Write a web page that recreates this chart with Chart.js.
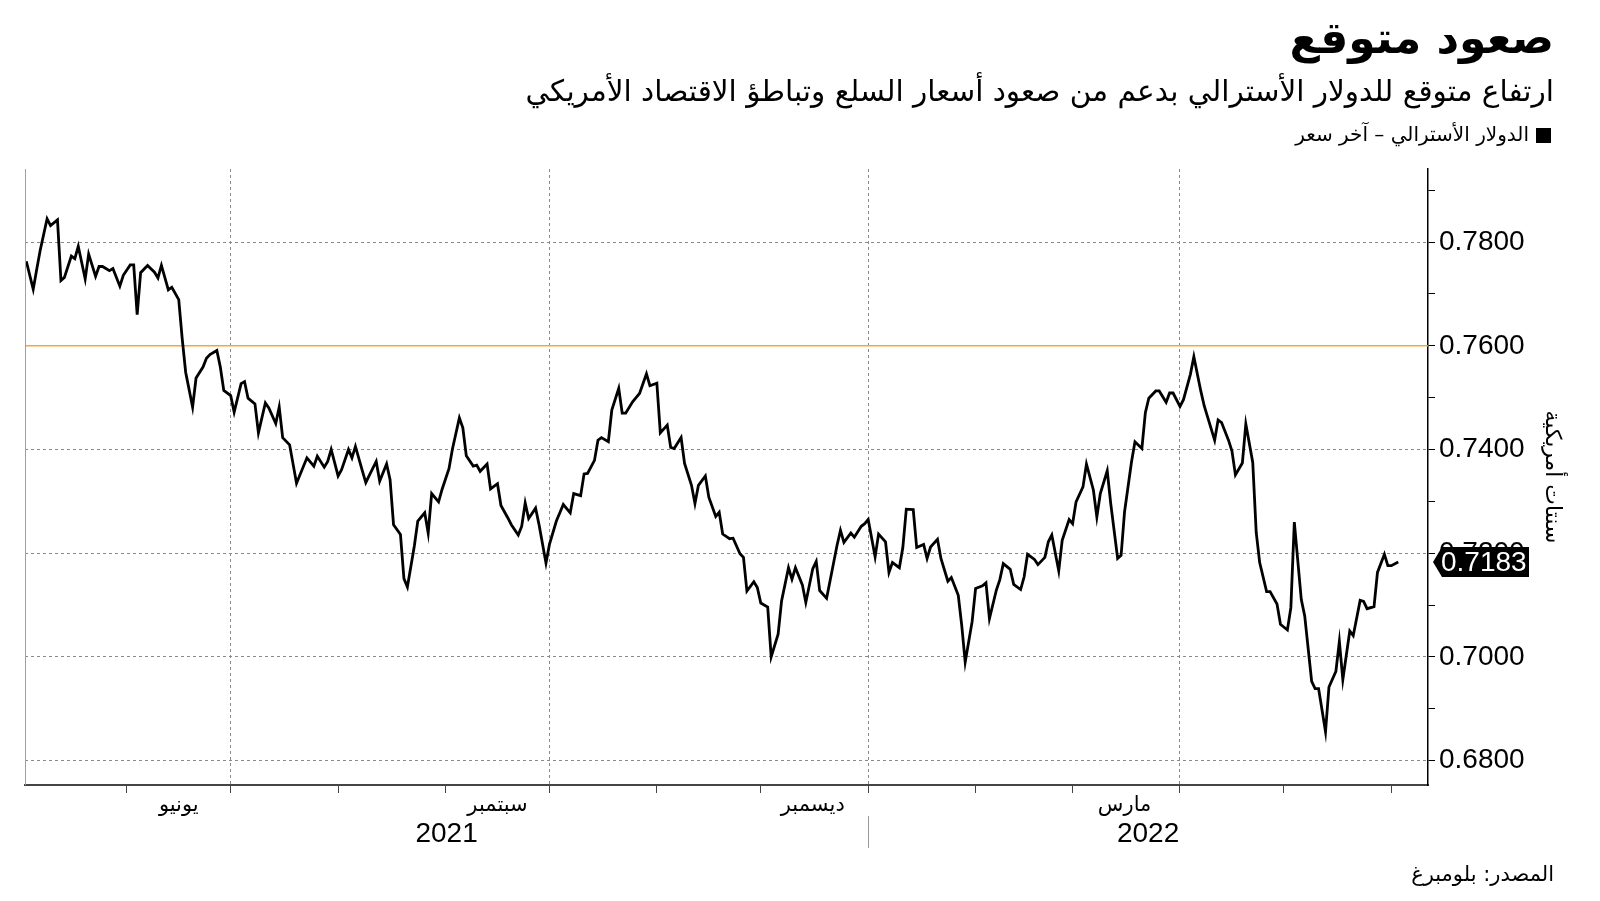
<!DOCTYPE html>
<html lang="ar">
<head>
<meta charset="utf-8">
<title>صعود متوقع</title>
<script src="https://cdn.jsdelivr.net/npm/chart.js@4.4.1/dist/chart.umd.min.js"></script>
<style>
  html, body { margin: 0; padding: 0; background: #fff; }
  canvas { display: block; }
</style>
</head>
<body>
<canvas id="audChart" width="1600" height="901"></canvas>
<script>
// نصوص الرسم
const titleText = 'صعود متوقع';
const subtitleText = 'ارتفاع متوقع للدولار الأسترالي بدعم من صعود أسعار السلع وتباطؤ الاقتصاد الأمريكي';
const legendText = 'الدولار الأسترالي – آخر سعر';
const axisTitle = 'سنتات أمريكية';
const sourceText = 'المصدر: بلومبرغ';

// الدولار الأسترالي مقابل الدولار الأمريكي (قراءة تقريبية من الصورة)
const dates = [
  '2021-05-03','2021-05-05','2021-05-06','2021-05-07','2021-05-09','2021-05-10','2021-05-12','2021-05-13','2021-05-14','2021-05-16',
  '2021-05-17','2021-05-18','2021-05-20','2021-05-21','2021-05-23','2021-05-24','2021-05-25','2021-05-27','2021-05-28','2021-05-30',
  '2021-05-31','2021-06-02','2021-06-03','2021-06-04','2021-06-05','2021-06-07','2021-06-09','2021-06-10','2021-06-11','2021-06-13',
  '2021-06-14','2021-06-16','2021-06-17','2021-06-18','2021-06-20','2021-06-21','2021-06-23','2021-06-24','2021-06-25','2021-06-27',
  '2021-06-28','2021-06-29','2021-07-01','2021-07-02','2021-07-04','2021-07-05','2021-07-06','2021-07-08','2021-07-09','2021-07-11',
  '2021-07-12','2021-07-14','2021-07-15','2021-07-16','2021-07-18','2021-07-20','2021-07-23','2021-07-25','2021-07-26','2021-07-28',
  '2021-07-29','2021-07-30','2021-08-01','2021-08-02','2021-08-04','2021-08-05','2021-08-06','2021-08-08','2021-08-09','2021-08-10',
  '2021-08-12','2021-08-13','2021-08-15','2021-08-16','2021-08-17','2021-08-19','2021-08-20','2021-08-21','2021-08-23','2021-08-24',
  '2021-08-26','2021-08-27','2021-08-28','2021-08-30','2021-08-31','2021-09-02','2021-09-03','2021-09-05','2021-09-06','2021-09-07',
  '2021-09-09','2021-09-10','2021-09-11','2021-09-13','2021-09-14','2021-09-16','2021-09-17','2021-09-19','2021-09-20','2021-09-22',
  '2021-09-23','2021-09-24','2021-09-25','2021-09-27','2021-09-28','2021-09-30','2021-10-01','2021-10-03','2021-10-04','2021-10-05',
  '2021-10-07','2021-10-08','2021-10-10','2021-10-11','2021-10-12','2021-10-14','2021-10-15','2021-10-16','2021-10-18','2021-10-19',
  '2021-10-21','2021-10-22','2021-10-23','2021-10-25','2021-10-26','2021-10-27','2021-10-29','2021-10-30','2021-11-01','2021-11-02',
  '2021-11-04','2021-11-05','2021-11-06','2021-11-08','2021-11-09','2021-11-11','2021-11-12','2021-11-13','2021-11-15','2021-11-16',
  '2021-11-18','2021-11-19','2021-11-20','2021-11-22','2021-11-23','2021-11-25','2021-11-26','2021-11-27','2021-11-29','2021-11-30',
  '2021-12-01','2021-12-03','2021-12-04','2021-12-06','2021-12-07','2021-12-09','2021-12-10','2021-12-11','2021-12-13','2021-12-14',
  '2021-12-16','2021-12-17','2021-12-18','2021-12-20','2021-12-21','2021-12-23','2021-12-24','2021-12-25','2021-12-27','2021-12-28',
  '2021-12-30','2021-12-31','2022-01-01','2022-01-03','2022-01-04','2022-01-06','2022-01-07','2022-01-08','2022-01-10','2022-01-11',
  '2022-01-12','2022-01-14','2022-01-15','2022-01-17','2022-01-18','2022-01-19','2022-01-21','2022-01-22','2022-01-24','2022-01-25',
  '2022-01-27','2022-01-28','2022-01-29','2022-01-31','2022-02-01','2022-02-03','2022-02-04','2022-02-05','2022-02-07','2022-02-08',
  '2022-02-09','2022-02-11','2022-02-12','2022-02-14','2022-02-15','2022-02-16','2022-02-18','2022-02-19','2022-02-21','2022-02-22',
  '2022-02-23','2022-02-25','2022-02-26','2022-02-28','2022-03-01','2022-03-02','2022-03-04','2022-03-05','2022-03-07','2022-03-08',
  '2022-03-09','2022-03-11','2022-03-12','2022-03-14','2022-03-15','2022-03-16','2022-03-18','2022-03-19','2022-03-21','2022-03-22',
  '2022-03-23','2022-03-25','2022-03-26','2022-03-28','2022-03-29','2022-03-30','2022-04-01','2022-04-02','2022-04-04','2022-04-05',
  '2022-04-07','2022-04-08','2022-04-09','2022-04-11','2022-04-12','2022-04-13','2022-04-15','2022-04-16','2022-04-17','2022-04-19',
  '2022-04-20','2022-04-22','2022-04-23','2022-04-24','2022-04-26','2022-04-27','2022-04-29','2022-04-30','2022-05-02','2022-05-03',
  '2022-05-04','2022-05-06','2022-05-07','2022-05-09','2022-05-10','2022-05-11','2022-05-13','2022-05-14','2022-05-16','2022-05-17',
  '2022-05-18','2022-05-20','2022-05-21','2022-05-23','2022-05-24','2022-05-25','2022-05-27','2022-05-28','2022-05-30','2022-05-31',
  '2022-06-01','2022-06-03'
];
const values = [
  0.7763,0.7709,0.7747,0.7784,0.7845,0.7832,0.7843,0.7726,0.7732,0.7773,
  0.7768,0.7792,0.7729,0.7777,0.7734,0.7753,0.7753,0.7745,0.7749,0.7715,
  0.7736,0.7756,0.7756,0.7660,0.7741,0.7755,0.7742,0.7731,0.7755,0.7708,
  0.7713,0.7689,0.7614,0.7549,0.7482,0.7538,0.7559,0.7576,0.7583,0.7591,
  0.7559,0.7514,0.7504,0.7472,0.7527,0.7531,0.7499,0.7488,0.7432,0.7490,
  0.7480,0.7450,0.7482,0.7423,0.7409,0.7335,0.7384,0.7368,0.7387,0.7366,
  0.7377,0.7400,0.7349,0.7361,0.7400,0.7384,0.7406,0.7359,0.7336,0.7350,
  0.7377,0.7339,0.7372,0.7342,0.7255,0.7236,0.7151,0.7135,0.7214,0.7262,
  0.7278,0.7239,0.7315,0.7299,0.7323,0.7363,0.7401,0.7461,0.7442,0.7388,
  0.7368,0.7370,0.7358,0.7372,0.7324,0.7334,0.7292,0.7268,0.7255,0.7235,
  0.7252,0.7297,0.7267,0.7287,0.7255,0.7181,0.7217,0.7262,0.7278,0.7294,
  0.7278,0.7315,0.7311,0.7353,0.7354,0.7379,0.7418,0.7423,0.7415,0.7476,
  0.7518,0.7470,0.7470,0.7492,0.7500,0.7508,0.7546,0.7523,0.7528,0.7432,
  0.7447,0.7404,0.7402,0.7423,0.7373,0.7331,0.7296,0.7331,0.7349,0.7308,
  0.7271,0.7279,0.7237,0.7228,0.7229,0.7199,0.7192,0.7127,0.7145,0.7134,
  0.7104,0.7096,0.7000,0.7044,0.7108,0.7172,0.7150,0.7172,0.7139,0.7105,
  0.7170,0.7184,0.7128,0.7113,0.7147,0.7215,0.7244,0.7221,0.7239,0.7231,
  0.7252,0.7257,0.7265,0.7193,0.7237,0.7222,0.7163,0.7182,0.7172,0.7211,
  0.7285,0.7284,0.7211,0.7217,0.7190,0.7212,0.7227,0.7190,0.7146,0.7153,
  0.7119,0.7061,0.6990,0.7068,0.7132,0.7137,0.7143,0.7074,0.7129,0.7149,
  0.7180,0.7169,0.7140,0.7130,0.7154,0.7198,0.7188,0.7178,0.7192,0.7222,
  0.7235,0.7166,0.7225,0.7265,0.7257,0.7299,0.7328,0.7372,0.7322,0.7270,
  0.7315,0.7359,0.7296,0.7190,0.7196,0.7280,0.7376,0.7415,0.7402,0.7471,
  0.7499,0.7513,0.7513,0.7491,0.7509,0.7509,0.7483,0.7496,0.7545,0.7579,
  0.7513,0.7484,0.7462,0.7418,0.7457,0.7452,0.7418,0.7397,0.7351,0.7374,
  0.7449,0.7375,0.7240,0.7182,0.7126,0.7126,0.7102,0.7063,0.7052,0.7095,
  0.7260,0.7111,0.7079,0.6953,0.6939,0.6939,0.6856,0.6942,0.6972,0.7030,
  0.6956,0.7050,0.7041,0.7109,0.7107,0.7093,0.7097,0.7163,0.7198,0.7176,
  0.7176,0.7183
];

// خط مرجعي عند 0.76
const referenceLevel = 0.76;

// المحور الأفقي
const monthTicks = ['2021-06-01','2021-07-01','2021-08-01','2021-09-01','2021-10-01','2021-11-01','2021-12-01',
                    '2022-01-01','2022-02-01','2022-03-01','2022-04-01','2022-05-01','2022-06-01'];
const gridMonths = ['2021-07-01','2021-10-01','2022-01-01','2022-04-01'];
const monthLabelDates = ['2021-06-16','2021-09-16','2021-12-16','2022-03-16'];
const monthLabels = ['يونيو','سبتمبر','ديسمبر','مارس'];
const yearLabels = ['2021','2022'];
const yearBoundary = '2022-01-01';

// المحور الرأسي
const yTicks = [0.68,0.69,0.70,0.71,0.72,0.73,0.74,0.75,0.76,0.77,0.78,0.79];

const xMin = Date.UTC(2021, 4, 2, 15);
const xMax = Date.UTC(2022, 5, 11, 14);
const yMin = 0.6753;
const yMax = 0.7941;

const toTime = s => Date.parse(s);
const gridTimes = gridMonths.map(toTime);
const labelTimes = monthLabelDates.map(toTime);

const decorPlugin = {
    id: 'decor',
    afterDraw(chart) {
        const { ctx, chartArea: a, scales: { x, y } } = chart;
        ctx.save();

        // الإطار الأيسر
        ctx.strokeStyle = '#a0a0a0';
        ctx.lineWidth = 1;
        ctx.beginPath();
        ctx.moveTo(a.left + 0.5, a.top);
        ctx.lineTo(a.left + 0.5, a.bottom);
        ctx.stroke();

        // العناوين
        ctx.direction = 'rtl';
        ctx.textAlign = 'right';
        ctx.textBaseline = 'middle';
        ctx.fillStyle = '#000';
        ctx.font = 'bold 44px "DejaVu Sans"';
        ctx.fillText(titleText, 1554, 42);
        ctx.font = '29.5px "DejaVu Sans"';
        ctx.fillText(subtitleText, 1554, 93);

        ctx.fillRect(1536, 128, 15, 15);
        ctx.font = '20px "DejaVu Sans"';
        ctx.fillText(legendText, 1529, 136);

        ctx.font = '21px "DejaVu Sans"';
        ctx.fillText(sourceText, 1554, 876);

        // عنوان المحور الرأسي
        ctx.save();
        ctx.translate(1552, (a.top + a.bottom) / 2);
        ctx.rotate(Math.PI / 2);
        ctx.textAlign = 'center';
        ctx.font = '22px "DejaVu Sans"';
        ctx.fillText(axisTitle, 0, 0);
        ctx.restore();

        // السنوات
        const jan = x.getPixelForValue(toTime(yearBoundary));
        ctx.direction = 'ltr';
        ctx.textAlign = 'center';
        ctx.font = '28px "Liberation Sans"';
        ctx.fillText(yearLabels[0], (a.left + jan) / 2, 834);
        ctx.fillText(yearLabels[1], (jan + a.right) / 2, 834);
        ctx.strokeStyle = '#999';
        ctx.beginPath();
        ctx.moveTo(Math.round(jan) + 0.5, 816);
        ctx.lineTo(Math.round(jan) + 0.5, 848);
        ctx.stroke();

        // آخر سعر
        const last = values[values.length - 1];
        const py = y.getPixelForValue(last);
        const x0 = a.right + 5;
        ctx.fillStyle = '#000';
        ctx.beginPath();
        ctx.moveTo(x0, py);
        ctx.lineTo(x0 + 9, py - 15);
        ctx.lineTo(1529, py - 15);
        ctx.lineTo(1529, py + 15);
        ctx.lineTo(x0 + 9, py + 15);
        ctx.closePath();
        ctx.fill();
        ctx.fillStyle = '#fff';
        ctx.textAlign = 'left';
        ctx.font = '28px "Liberation Sans"';
        ctx.fillText(last.toFixed(4), 1441, py + 1);

        ctx.restore();
    }
};

const ctx = document.getElementById('audChart').getContext('2d');
new Chart(ctx, {
    type: 'line',
    data: {
        datasets: [
            {
                label: legendText,
                data: dates.map((d, i) => ({ x: toTime(d), y: values[i] })),
                borderColor: '#000',
                borderWidth: 2.8,
                pointRadius: 0,
                tension: 0
            },
            {
                label: 'reference',
                data: [{ x: xMin, y: referenceLevel }, { x: xMax, y: referenceLevel }],
                borderColor: '#f2a93b',
                borderWidth: 1.5,
                pointRadius: 0
            }
        ]
    },
    options: {
        responsive: false,
        devicePixelRatio: 1,
        animation: false,
        layout: { padding: { top: 169, left: 25, right: 0, bottom: 0 } },
        plugins: {
            legend: { display: false },
            tooltip: { enabled: false }
        },
        scales: {
            x: {
                type: 'linear',
                min: xMin,
                max: xMax,
                afterFit: s => { s.height = 116; },
                afterBuildTicks: s => {
                    s.ticks = monthTicks.map(t => ({ value: toTime(t) }))
                        .concat(labelTimes.map(t => ({ value: t })));
                },
                ticks: {
                    autoSkip: false,
                    maxRotation: 0,
                    padding: 0,
                    color: '#000',
                    font: { family: 'DejaVu Sans', size: 21 },
                    callback: value => {
                        const i = labelTimes.indexOf(value);
                        return i >= 0 ? monthLabels[i] : '';
                    }
                },
                grid: {
                    color: c => gridTimes.includes(c.tick.value) ? '#8a8a8a' : 'rgba(0,0,0,0)',
                    tickColor: c => labelTimes.includes(c.tick.value) ? 'rgba(0,0,0,0)' : '#444',
                    tickLength: 8,
                    lineWidth: 1
                },
                border: { color: '#444', width: 2, dash: [3, 3] }
            },
            y: {
                position: 'right',
                min: yMin,
                max: yMax,
                afterFit: s => { s.width = 172; },
                afterBuildTicks: s => { s.ticks = yTicks.map(v => ({ value: v })); },
                ticks: {
                    padding: 4,
                    color: '#000',
                    font: { family: 'Liberation Sans', size: 28 },
                    callback: v => Math.round(v * 100) % 2 === 0 ? v.toFixed(4) : ''
                },
                grid: {
                    color: c => Math.round(c.tick.value * 100) % 2 === 0 ? '#8a8a8a' : 'rgba(0,0,0,0)',
                    tickColor: '#000',
                    tickLength: 7,
                    lineWidth: 1
                },
                border: { color: '#000', width: 1.5, dash: [3, 3] }
            }
        }
    },
    plugins: [decorPlugin]
});
</script>
</body>
</html>
